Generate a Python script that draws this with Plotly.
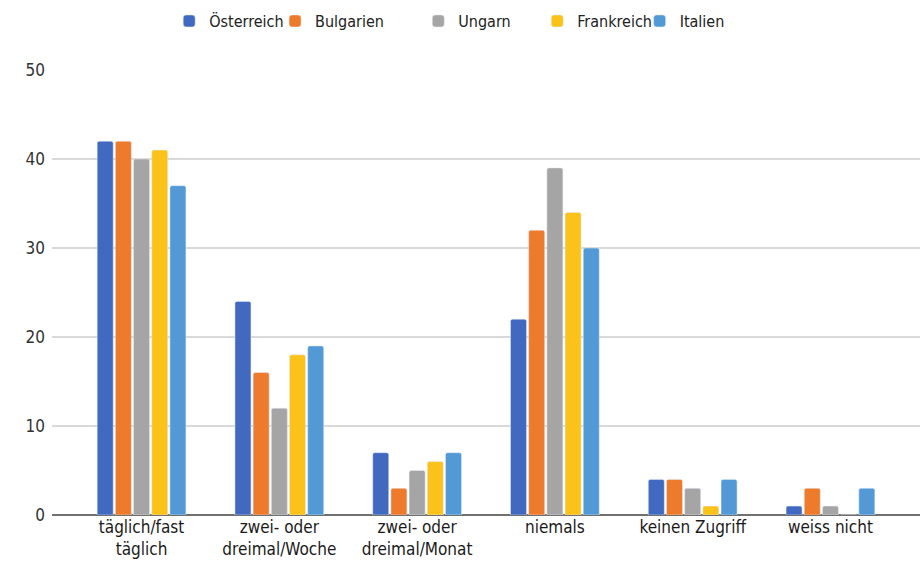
import plotly.graph_objects as go

categories = ["täglich/fast<br>täglich", "zwei- oder<br>dreimal/Woche", "zwei- oder<br>dreimal/Monat",
              "niemals", "keinen Zugriff", "weiss nicht"]
series_names = ["Österreich", "Bulgarien", "Ungarn", "Frankreich", "Italien"]
oesterreich = [42, 24, 7, 22, 4, 1]
bulgarien = [42, 16, 3, 32, 4, 3]
ungarn = [40, 12, 5, 39, 3, 1]
frankreich = [41, 18, 6, 34, 1, 0]
italien = [37, 19, 7, 30, 4, 3]
y_ticks = [0, 10, 20, 30, 40, 50]

values = [oesterreich, bulgarien, ungarn, frankreich, italien]
colors = ["#4169C0", "#EE7A2C", "#A5A5A5", "#FBC21A", "#5299D6"]
legend_x = [0.135, 0.257, 0.422, 0.559, 0.677]
font = "DejaVu Sans Condensed, Liberation Sans Narrow, sans-serif"

fig = go.Figure()
for i, (name, vals, col) in enumerate(zip(series_names, values, colors)):
    lg = "legend" if i == 0 else f"legend{i+1}"
    fig.add_trace(go.Bar(x=categories, y=vals, name=name, marker=dict(color=col, cornerradius=2),
                         legend=lg, hoverinfo="skip"))

legend_common = dict(orientation="h", yanchor="middle", y=1.11, xanchor="left",
                     font=dict(family=font, size=16, color="#222"), bgcolor="rgba(0,0,0,0)",
                     itemwidth=30, tracegroupgap=0)
layout_legends = {}
for i, lx in enumerate(legend_x):
    key = "legend" if i == 0 else f"legend{i+1}"
    layout_legends[key] = dict(legend_common, x=lx)

fig.update_layout(
    width=923, height=564,
    margin=dict(l=52, r=3, t=70, b=49),
    paper_bgcolor="white", plot_bgcolor="white",
    barmode="group", bargap=0.34, bargroupgap=0.12,
    showlegend=True,
    font=dict(family=font, size=16, color="#222"),
    xaxis=dict(range=[-0.65, 5.65], showgrid=False, showline=False, ticks="", automargin=False,
               tickfont=dict(family=font, size=17, color="#1a1a1a")),
    yaxis=dict(range=[0, 50], tickvals=y_ticks, showgrid=True, gridcolor="#D9D9D9", gridwidth=1.5,
               zeroline=True, zerolinecolor="#707070", zerolinewidth=2, ticks="", automargin=False,
               ticklabelstandoff=6, tickfont=dict(family=font, size=17, color="#333")),
    **layout_legends,
)

fig.write_html(
    "out.html",
    config={"displayModeBar": False},
    post_script="document.body.style.margin='0';document.body.style.overflow='hidden';",
)
